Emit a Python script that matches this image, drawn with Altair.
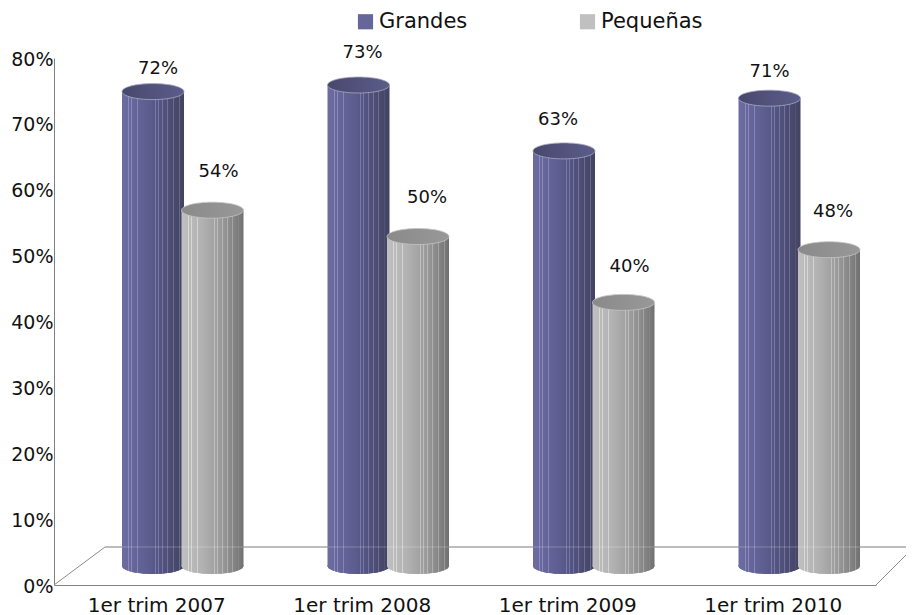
import altair as alt
import pandas as pd

# ---- data ----
periods = ["1er trim 2007", "1er trim 2008", "1er trim 2009", "1er trim 2010"]
grandes = [72, 73, 63, 71]
pequenas = [54, 50, 40, 48]
series_names = ["Grandes", "Pequeñas"]
y_ticks = [0, 10, 20, 30, 40, 50, 60, 70, 80]

# ---- layout / style constants ----
PLOT_W, PLOT_H = 822, 527
CYL_W = 62
LIFT = 2.9            # cylinders stand a little behind the front floor edge (axis %)
FLOOR_BACK = 5.77     # back floor edge (axis %)
FONT = "DejaVu Sans"
LABEL_NUDGE = {
    "Grandes": [(5, -23), (4, -32), (-6, -31), (0, -26)],
    "Pequeñas": [(6, -38), (9, -39), (6, -35), (4, -38)],
}
LEGEND_COLORS = ["#66669a", "#c0c0c0"]
STRIPES = [0.10, 0.15, 0.25, 0.53, 0.58, 0.65, 0.73, 0.82, 0.92]


def lerp(anchors, t):
    for (t0, c0), (t1, c1) in zip(anchors, anchors[1:]):
        if t <= t1:
            f = (t - t0) / (t1 - t0)
            return tuple(c0[i] + (c1[i] - c0[i]) * f for i in range(3))
    return anchors[-1][1]


def hexc(c):
    return "#%02x%02x%02x" % tuple(int(min(255, max(0, round(v)))) for v in c)


def striped(anchors, boost):
    stops = []
    for t, c in anchors:
        stops.append((t, hexc(c)))
    for s in STRIPES:
        base = lerp(anchors, s)
        light = tuple(v + boost for v in base)
        stops += [(s - 0.001, hexc(base)), (s, hexc(light)), (s + 0.014, hexc(light)), (s + 0.015, hexc(base))]
    stops.sort(key=lambda p: p[0])
    return alt.LinearGradient(
        gradient="linear", x1=0, x2=1, y1=0, y2=0,
        stops=[alt.GradientStop(offset=o, color=c) for o, c in stops],
    )


body_fill = {
    "Grandes": striped([(0, (108, 108, 160)), (0.35, (96, 96, 148)), (0.7, (80, 80, 122)), (1, (66, 66, 98))], 34),
    "Pequeñas": striped([(0, (192, 192, 192)), (0.35, (176, 176, 176)), (0.7, (148, 148, 148)), (1, (112, 112, 112))], 30),
}
top_fill = {
    "Grandes": alt.LinearGradient(gradient="linear", x1=0, x2=1, y1=0, y2=0, stops=[
        alt.GradientStop(offset=0, color="#48486e"), alt.GradientStop(offset=1, color="#5c5c8a")]),
    "Pequeñas": alt.LinearGradient(gradient="linear", x1=0, x2=1, y1=0, y2=0, stops=[
        alt.GradientStop(offset=0, color="#8a8a8a"), alt.GradientStop(offset=1, color="#989898")]),
}
edge = {"Grandes": "#a9a9c4", "Pequeñas": "#c4c4c4"}
ELLIPSE = ("M-1,0C-1,-.1425,-.5523,-.258,0,-.258C.5523,-.258,1,-.1425,1,0"
           "C1,.1425,.5523,.258,0,.258C-.5523,.258,-1,.1425,-1,0Z")

rows = []
for i, p in enumerate(periods):
    for s, vals in zip(series_names, [grandes, pequenas]):
        rows.append({"period": p, "serie": s, "value": vals[i], "i": i,
                     "top": vals[i] + LIFT, "base": LIFT})
df = pd.DataFrame(rows)

x = alt.X("period:N", sort=periods, scale=alt.Scale(domain=periods, paddingInner=0, paddingOuter=0),
          axis=alt.Axis(title=None, labelAngle=0, ticks=False, labelFontSize=20, labelFont=FONT,
                        labelColor="#111111", domainColor="#808080", labelPadding=10))
xo = alt.XOffset("serie:N", scale=alt.Scale(type="point", padding=0, domain=series_names, range=[99, 158.5]))
y_scale = alt.Scale(domain=[0, 80], nice=False, zero=False)
y_axis = alt.Axis(title=None, values=y_ticks, ticks=False, grid=False, labelExpr="datum.value + '%'",
                  labelFontSize=19, labelFont=FONT, labelColor="#111111", labelOffset=1,
                  domainColor="#808080", labelPadding=1)
y_top = alt.Y("top:Q", scale=y_scale, axis=y_axis)
y_base = alt.Y("base:Q", scale=y_scale, axis=y_axis)
y_floor = alt.Y("v:Q", scale=y_scale, axis=y_axis)

# floor
floor_back = alt.Chart(pd.DataFrame({"v": [FLOOR_BACK]})).mark_rule(color="#b4b4b4", strokeWidth=2).encode(
    x=alt.value(51), x2=alt.value(860), y=y_floor)
floor_left = alt.Chart(pd.DataFrame({"v": [0]})).mark_rule(color="#8c8c8c").encode(
    x=alt.value(0), x2=alt.value(51), y=alt.value(PLOT_H), y2=alt.value(PLOT_H - 38))
floor_right = alt.Chart(pd.DataFrame({"v": [0]})).mark_rule(color="#8c8c8c").encode(
    x=alt.value(822), x2=alt.value(860), y=alt.value(PLOT_H), y2=alt.value(PLOT_H - 38))

layers = [floor_back, floor_left, floor_right]

# legend carrier: solid base discs under the cylinders
layers.append(
    alt.Chart(df).mark_point(shape=ELLIPSE, size=CYL_W ** 2, filled=True, opacity=1).encode(
        x=x, xOffset=xo, y=y_base,
        color=alt.Color("serie:N", scale=alt.Scale(domain=series_names, range=LEGEND_COLORS),
                        legend=alt.Legend(title=None, orient="none", legendX=301, legendY=-47, columns=2,
                                          symbolType="square", symbolSize=230, labelFontSize=21, labelFont=FONT,
                                          labelColor="#111111", columnPadding=109, labelOffset=3)),
    )
)

for s in series_names:
    d = df[df.serie == s]
    base = alt.Chart(d)
    layers.append(base.mark_point(shape=ELLIPSE, size=CYL_W ** 2, filled=True, opacity=1, fill=body_fill[s]).encode(
        x=x, xOffset=xo, y=y_base))
    layers.append(base.mark_bar(width=CYL_W, fill=body_fill[s]).encode(
        x=x, xOffset=xo, y=y_top, y2=alt.Y2("base:Q")))
    layers.append(base.mark_point(shape=ELLIPSE, size=CYL_W ** 2, filled=True, opacity=1, fill=top_fill[s],
                                  stroke=edge[s], strokeWidth=0.8).encode(
        x=x, xOffset=xo, y=y_top))

# faint floor line showing through the cylinders
layers.append(alt.Chart(pd.DataFrame({"v": [FLOOR_BACK]})).mark_rule(color="#ffffff", strokeWidth=2, opacity=0.12).encode(
    x=alt.value(51), x2=alt.value(860), y=y_floor))

for s in series_names:
    for k, (dx, dy) in enumerate(LABEL_NUDGE[s]):
        d = df[(df.serie == s) & (df.i == k)]
        layers.append(alt.Chart(d).transform_calculate(label="datum.value + '%'").mark_text(
            dx=dx, dy=dy, fontSize=18, font=FONT, color="#111111", baseline="middle", align="center"
        ).encode(x=x, xOffset=xo, y=y_top, text="label:N"))

chart = alt.layer(*layers).properties(
    width=PLOT_W, height=PLOT_H,
    autosize=alt.AutoSizeParams(type="none"),
    padding={"left": 46, "top": 50, "right": 30, "bottom": 32},
    background="#ffffff",
).configure_view(stroke=None)

chart.save("out.html", embed_options={"renderer": "svg", "actions": False})
